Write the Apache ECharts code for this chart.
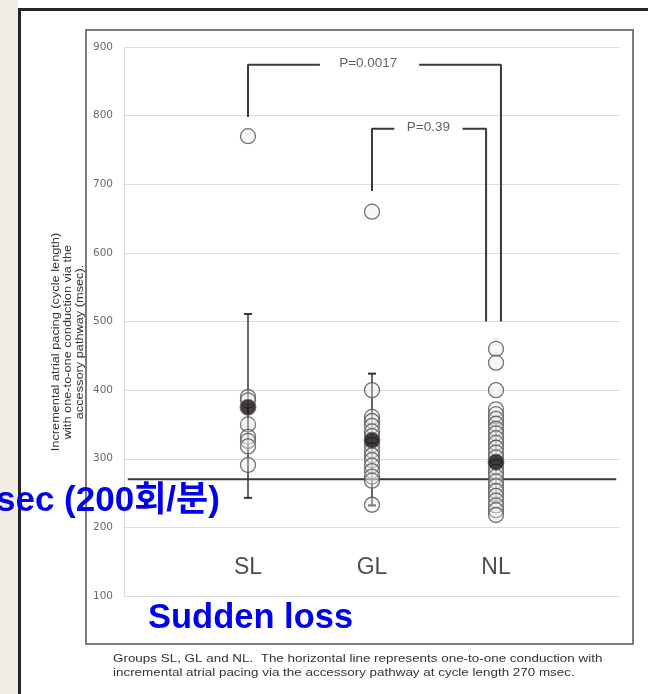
<!DOCTYPE html>
<html>
<head>
<meta charset="utf-8">
<script src="https://cdn.jsdelivr.net/npm/echarts@6/dist/echarts.min.js"></script>
<style>
html,body{margin:0;padding:0;background:#fff;}
#c{width:648px;height:694px;}
</style>
</head>
<body>
<div id="c"></div>
<script>
// ---- data ----
const groups = ['SL', 'GL', 'NL'];
const slValues = [770, 390, 385, 350, 332, 326, 318, 291];
const glValues = [660, 400, 361, 355, 348, 340, 333, 320, 312, 305, 298, 290, 282, 274, 268, 233];
const nlValues = [460, 440, 400, 372, 365, 358, 351, 344, 337, 330, 323, 316, 309, 302, 295, 288, 281, 274, 267, 260, 253, 246, 239, 232, 225, 218];
const groupMeans = [375, 327, 295];
const errLow = [243, 232, 238];
const errHigh = [511, 424, 352];
const refLine = 270;
const yTicks = [100, 200, 300, 400, 500, 600, 700, 800, 900];
const pTexts = ['P=0.0017', 'P=0.39'];

// ---- build options ----
const allValues = [slValues, glValues, nlValues];
const pointData = [];
allValues.forEach((arr, gi) => arr.forEach(v => pointData.push([gi + 1, v])));
const meanData = groupMeans.map((v, i) => [i + 1, v]);
const errData = groups.map((g, i) => [i + 1, errLow[i], errHigh[i]]);
const labelData = groups.map((g, i) => ({ value: [i + 1, 141], name: g }));

const bracketStyle = { color: '#3a3a3a', width: 2 };
function seg(data) {
  return { type: 'line', data: data, symbol: 'none', lineStyle: bracketStyle, z: 3, silent: true };
}
function ptxt(x, y, t) {
  return {
    type: 'scatter', data: [{ value: [x, y], name: t }], symbolSize: 0, z: 4,
    label: { show: true, position: 'inside', formatter: '{b}', color: '#2f3a4a', fontSize: 13.5, fontFamily: 'Liberation Sans, Arial' }
  };
}

const chart = echarts.init(document.getElementById('c'), null, { renderer: 'canvas' });
chart.setOption({
  animation: false,
  backgroundColor: '#ffffff',
  grid: { left: 124, right: 28, top: 47, bottom: 98 },
  xAxis: {
    type: 'value', min: 0, max: 4,
    axisLine: { show: false }, axisTick: { show: false }, axisLabel: { show: false }, splitLine: { show: false }
  },
  yAxis: {
    type: 'value', min: yTicks[0], max: yTicks[yTicks.length - 1], interval: 100,
    axisLine: { show: true, lineStyle: { color: '#d8d8d8', width: 1 } },
    axisTick: { show: false },
    axisLabel: { color: '#6a6a6a', fontSize: 10.5, margin: 11, fontFamily: 'DejaVu Sans, sans-serif' },
    splitLine: { show: true, lineStyle: { color: '#dcdcdc', width: 1 } }
  },
  series: [
    {
      type: 'line', data: [[0.03, refLine], [3.97, refLine]], symbol: 'none',
      lineStyle: { color: '#3a3a3a', width: 2 }, z: 2, silent: true
    },
    {
      type: 'custom', data: errData, z: 3,
      renderItem: function (params, api) {
        const x = api.value(0);
        const lo = api.coord([x, api.value(1)]);
        const hi = api.coord([x, api.value(2)]);
        const st = { stroke: '#333', lineWidth: 1.5 };
        return {
          type: 'group', children: [
            { type: 'line', shape: { x1: lo[0], y1: lo[1], x2: hi[0], y2: hi[1] }, style: st },
            { type: 'line', shape: { x1: lo[0] - 4, y1: lo[1], x2: lo[0] + 4, y2: lo[1] }, style: { stroke: '#333', lineWidth: 2 } },
            { type: 'line', shape: { x1: hi[0] - 4, y1: hi[1], x2: hi[0] + 4, y2: hi[1] }, style: { stroke: '#333', lineWidth: 2 } }
          ]
        };
      }
    },
    {
      type: 'scatter', data: pointData, symbol: 'circle', symbolSize: 15, z: 4,
      itemStyle: { color: 'rgba(232,232,232,0.45)', borderColor: '#505050', borderWidth: 1.3 }
    },
    {
      type: 'scatter', data: meanData, symbol: 'circle', symbolSize: 16, z: 5,
      itemStyle: { color: '#1c1212', borderColor: '#707070', borderWidth: 1 }
    },
    {
      type: 'scatter', data: labelData, symbolSize: 0, z: 5,
      label: { show: true, position: 'inside', formatter: '{b}', color: '#222', fontSize: 23, fontFamily: 'Liberation Sans, Arial' }
    },
    seg([[1, 798], [1, 874], [1.58, 874]]),
    seg([[2.38, 874], [3.04, 874], [3.04, 500]]),
    ptxt(1.97, 876, pTexts[0]),
    seg([[2, 690], [2, 781], [2.18, 781]]),
    seg([[2.73, 781], [2.92, 781], [2.92, 500]]),
    ptxt(2.455, 783, pTexts[1])
  ],
  graphic: [
    { type: 'rect', z: -20, shape: { x: 0, y: 0, width: 18, height: 694 }, style: { fill: '#efede3' } },
    { type: 'rect', z: -19, shape: { x: 18, y: 8, width: 630, height: 3 }, style: { fill: '#262626' } },
    { type: 'rect', z: -19, shape: { x: 18, y: 8, width: 3, height: 686 }, style: { fill: '#262626' } },
    { type: 'rect', z: -18, shape: { x: 86, y: 30, width: 547, height: 614 }, style: { fill: 'none', stroke: '#7a7a7a', lineWidth: 2 } },
    {
      type: 'text', z: 10, x: 68, y: 342, rotation: Math.PI / 2, scaleX: 1.16,
      style: {
        text: 'Incremental atrial pacing (cycle length)\nwith one-to-one conduction via the\naccessory pathway (msec).',
        fill: '#333', font: '11px "Liberation Sans", Arial', textAlign: 'center', textVerticalAlign: 'middle', lineHeight: 11.8
      }
    },
    {
      type: 'text', z: 10, x: 113, y: 652, scaleX: 1.22,
      style: {
        text: 'Groups SL, GL and NL.  The horizontal line represents one-to-one conduction with\nincremental atrial pacing via the accessory pathway at cycle length 270 msec.',
        fill: '#333', font: '11px "Liberation Sans", Arial', lineHeight: 14
      }
    },
    {
      type: 'text', z: 100, x: -4, y: 501,
      style: {
        text: 'sec (200회/분)', fill: '#0000ee',
        font: 'bold 35px "Liberation Sans", "Noto Sans CJK KR", Arial', textVerticalAlign: 'middle'
      }
    },
    {
      type: 'text', z: 100, x: 148, y: 618,
      style: {
        text: 'Sudden loss', fill: '#0000ee',
        font: 'bold 34.5px "Liberation Sans", Arial', textVerticalAlign: 'middle'
      }
    }
  ]
});
</script>
</body>
</html>
